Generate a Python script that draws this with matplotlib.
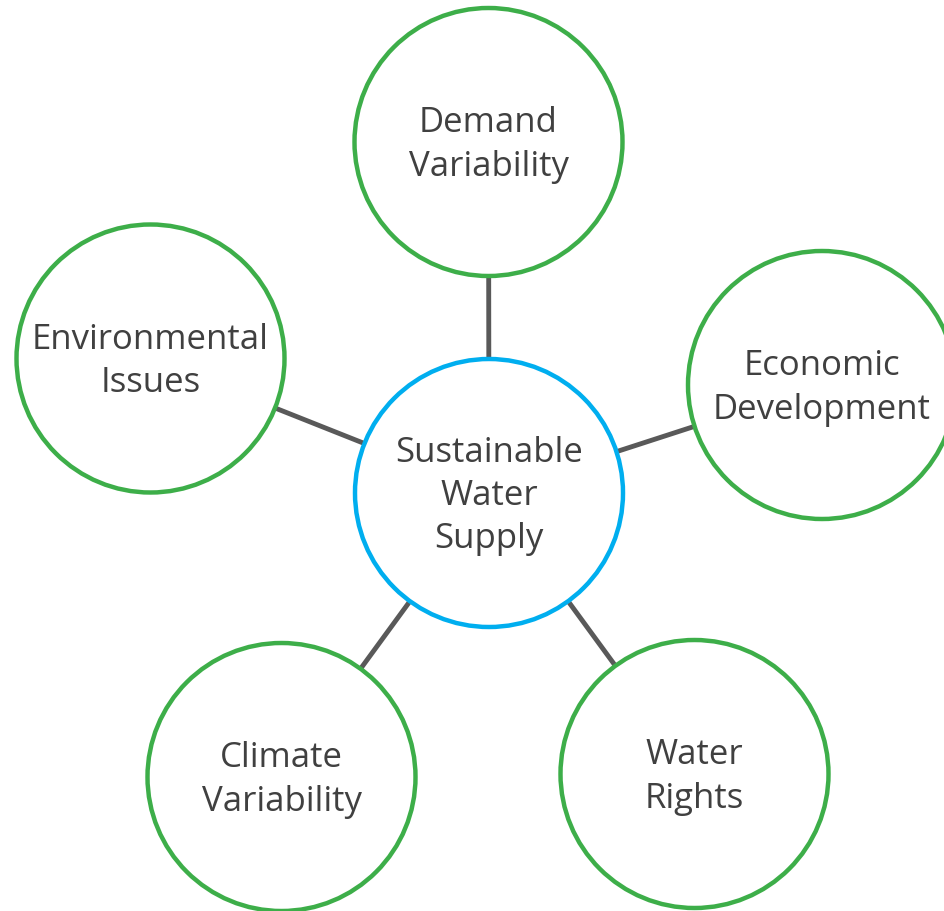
import matplotlib.pyplot as plt
from matplotlib.patches import Circle

center_label = "Sustainable\nWater\nSupply"
labels = ["Demand\nVariability", "Economic\nDevelopment", "Water\nRights",
          "Climate\nVariability", "Environmental\nIssues"]

# layout (pixels)
hub = (489, 494)
spots = [(488.5, 143), (822, 386), (694.5, 775), (281.5, 778), (150.5, 359.5)]
r = 134

green = '#3DAE49'
blue = '#00AEEF'
grey = '#595959'
txt = '#404040'

fig = plt.figure(figsize=(9.44, 9.12), dpi=100)
ax = fig.add_axes([0, 0, 1, 1])
ax.set_xlim(0, 944)
ax.set_ylim(912, 0)
ax.set_aspect('equal')
ax.axis('off')

for (x, y) in spots:
    ax.plot([hub[0], x], [hub[1], y], color=grey, lw=3.5, zorder=1,
            solid_capstyle='butt')

ax.add_patch(Circle(hub, r, facecolor='white', edgecolor=blue, lw=3.2, zorder=2))
ax.text(hub[0], hub[1] + 2, center_label, ha='center', va='center',
        fontsize=25, color=txt, family='Open Sans', linespacing=1.36, zorder=3)

for (x, y), lab in zip(spots, labels):
    ax.add_patch(Circle((x, y), r, facecolor='white', edgecolor=green, lw=3.2,
                        zorder=2))
    ax.text(x, y + 2, lab, ha='center', va='center', fontsize=25, color=txt,
            family='Open Sans', linespacing=1.36, zorder=3)

fig.savefig('out.png', dpi=100)
